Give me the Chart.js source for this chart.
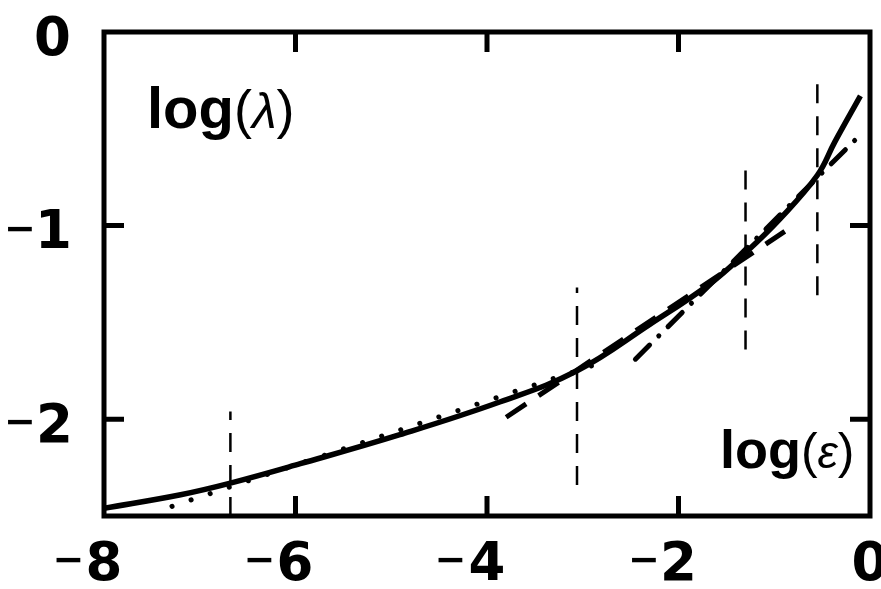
<!DOCTYPE html>
<html>
<head>
<meta charset="utf-8">
<script src="https://cdn.jsdelivr.net/npm/chart.js@4.4.1/dist/chart.umd.min.js"></script>
<style>
  html, body { margin: 0; padding: 0; background: #fff; }
  #wrap { width: 881px; height: 589px; }
</style>
</head>
<body>
<div id="wrap"><canvas id="c" width="881" height="589"></canvas></div>
<script>
// Main curve: log(lambda) against log(epsilon)
const curveX = [-8.0, -7.2, -6.68, -5.95, -4.91, -3.86, -3.06, -2.3, -1.67, -1.3, -0.94, -0.55, -0.37, -0.1];
const curveY = [-2.46, -2.39, -2.33, -2.23, -2.08, -1.91, -1.75, -1.51, -1.3, -1.14, -0.965, -0.74, -0.57, -0.33];

// Straight-line fits over successive windows
const dottedFitX = [-7.29, -2.76];
const dottedFitY = [-2.45, -1.70];
const dashedFitX = [-3.8, -0.89];
const dashedFitY = [-1.99, -1.03];
const dashDotFitX = [-2.45, -0.14];
const dashDotFitY = [-1.69, -0.55];

// Vertical window markers
const markerX = [-6.68, -3.06, -1.3, -0.55];
const markerLow = [-2.5, -2.34, -1.64, -1.36];
const markerHigh = [-1.96, -1.32, -0.66, -0.23];

// Axis ticks
const xTicks = [-8, -6, -4, -2, 0];
const yTicks = [-2, -1, 0];

const pts = (xs, ys) => xs.map((x, i) => ({ x, y: ys[i] }));
const base = { borderColor: '#000', backgroundColor: '#000', pointRadius: 0, fill: false };

const datasets = [
  { ...base, data: pts(curveX, curveY), borderWidth: 5.5, tension: 0.4 },
  { ...base, data: pts(dottedFitX, dottedFitY), borderWidth: 5, borderDash: [0.1, 20], borderCapStyle: 'round' },
  { ...base, data: pts(dashedFitX, dashedFitY), borderWidth: 5, borderDash: [24, 15] },
  { ...base, data: pts(dashDotFitX, dashDotFitY), borderWidth: 5, borderDash: [20, 13, 0.1, 13], borderCapStyle: 'round' }
];
markerX.forEach((x, i) => {
  datasets.push({ ...base, data: [{ x, y: markerLow[i] }, { x, y: markerHigh[i] }], borderWidth: 2.5, borderDash: [19, 13] });
});

const DIGIT_FONT = 'bold 53px "DejaVu Sans"';
const MINUS_FONT = 'bold 38px "DejaVu Sans"';

// Draws a signed tick value: the digits are placed by their ink box and the
// minus sign hangs to their left.
function drawSigned(ctx, v, anchorX, centerY, mode) {
  const digits = String(Math.abs(v));
  ctx.textAlign = 'left';
  ctx.textBaseline = 'alphabetic';
  ctx.font = DIGIT_FONT;
  const dm = ctx.measureText(digits);
  const inkW = dm.actualBoundingBoxRight + dm.actualBoundingBoxLeft;
  const inkLeft = mode === 'center' ? anchorX - inkW / 2 : anchorX - inkW;
  const dx = inkLeft + dm.actualBoundingBoxLeft;
  const dBase = centerY + (dm.actualBoundingBoxAscent - dm.actualBoundingBoxDescent) / 2;
  ctx.fillText(digits, dx, dBase);
  if (v < 0) {
    ctx.font = MINUS_FONT;
    const mm = ctx.measureText('\u2212');
    const gap = 8;
    const mx = inkLeft - gap - mm.actualBoundingBoxRight;
    const mBase = centerY + (mm.actualBoundingBoxAscent - mm.actualBoundingBoxDescent) / 2;
    ctx.fillText('\u2212', mx, mBase);
  }
}

function drawRuns(ctx, runs, x, baseline) {
  ctx.textAlign = 'left';
  ctx.textBaseline = 'alphabetic';
  for (const [font, text] of runs) {
    ctx.font = font;
    ctx.fillText(text, x, baseline);
    x += ctx.measureText(text).width;
  }
}

const framePlugin = {
  id: 'frame',
  afterDraw(chart) {
    const { ctx, chartArea: a, scales: { x, y } } = chart;
    ctx.save();
    ctx.strokeStyle = '#000';
    ctx.fillStyle = '#000';
    ctx.lineWidth = 5;
    ctx.lineJoin = 'miter';
    ctx.strokeRect(a.left, a.top, a.right - a.left, a.bottom - a.top);

    // inward tick marks on all four sides
    const tl = 20;
    ctx.beginPath();
    xTicks.forEach(v => {
      if (v === x.min || v === x.max) return;
      const px = x.getPixelForValue(v);
      ctx.moveTo(px, a.bottom); ctx.lineTo(px, a.bottom - tl);
      ctx.moveTo(px, a.top); ctx.lineTo(px, a.top + tl);
    });
    yTicks.forEach(v => {
      if (v === y.min || v === y.max) return;
      const py = y.getPixelForValue(v);
      ctx.moveTo(a.left, py); ctx.lineTo(a.left + tl, py);
      ctx.moveTo(a.right, py); ctx.lineTo(a.right - tl, py);
    });
    ctx.stroke();

    // tick labels
    xTicks.forEach(v => drawSigned(ctx, v, x.getPixelForValue(v), a.bottom + 44, 'center'));
    yTicks.forEach(v => drawSigned(ctx, v, a.left - 35, y.getPixelForValue(v) + 3, 'right'));

    // axis names inside the frame
    drawRuns(ctx, [
      ['bold 58px "Liberation Sans"', 'log'],
      ['54px "Liberation Sans"', '('],
      ['italic 50px "Liberation Sans"', '\u03BB'],
      ['54px "Liberation Sans"', ')']
    ], a.left + 43, a.top + 96);
    drawRuns(ctx, [
      ['bold 54px "Liberation Sans"', 'log'],
      ['50px "Liberation Sans"', '('],
      ['italic 46px "Liberation Sans"', '\u03B5'],
      ['50px "Liberation Sans"', ')']
    ], a.right - 150, a.bottom - 48);
    ctx.restore();
  }
};

new Chart(document.getElementById('c'), {
  type: 'line',
  data: { datasets },
  options: {
    responsive: false,
    animation: false,
    devicePixelRatio: 1,
    layout: { padding: { left: 104, right: 11, top: 32, bottom: 73 } },
    plugins: { legend: { display: false }, tooltip: { enabled: false } },
    scales: {
      x: { type: 'linear', min: -8, max: 0, display: false },
      y: { type: 'linear', min: -2.5, max: 0, display: false }
    }
  },
  plugins: [framePlugin]
});
</script>
</body>
</html>
